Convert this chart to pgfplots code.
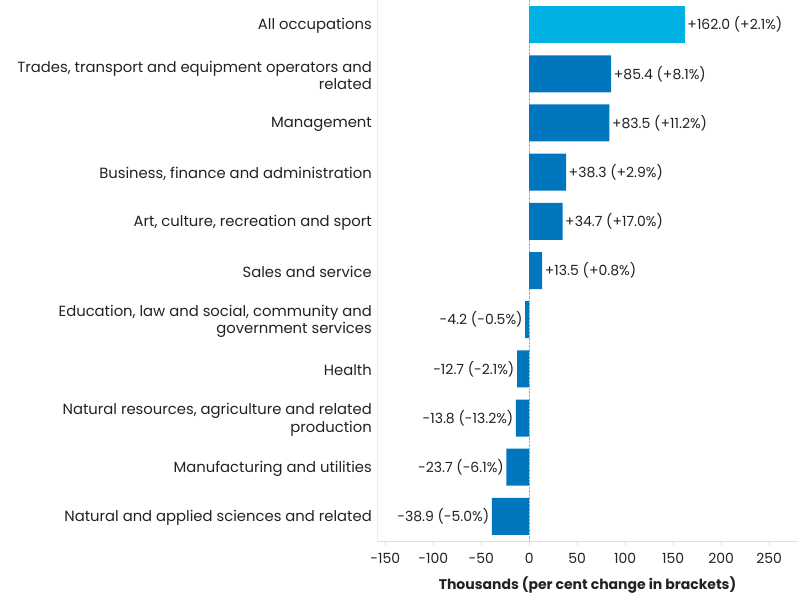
\documentclass[border=0pt]{standalone}
\usepackage{pgfplots}
\usepackage{fontspec}
\setmainfont{Poppins}
\pgfplotsset{compat=1.18}
\definecolor{lightbar}{HTML}{00B2E3}
\definecolor{darkbar}{HTML}{0076BF}
\definecolor{txt}{HTML}{222222}
\newcommand{\lbl}{\fontsize{14bp}{17bp}\selectfont}
\newcommand{\catlbl}{\fontsize{14.8bp}{17.5bp}\selectfont}

\begin{document}
\begin{tikzpicture}
\useasboundingbox (0,0) rectangle (800bp,600bp);
\begin{axis}[%
  at={(377bp,59bp)},
  anchor=south west,
  scale only axis,
  width=421bp,
  height=541bp,
  xbar,
  bar width=37bp,
  bar shift=0pt,
  xmin=-158.6, xmax=280,
  ymin=-0.5, ymax=10.5,
  y dir=reverse,
  axis x line*=bottom,
  axis y line*=left,
  x axis line style={draw=black!12},
  y axis line style={draw=black!7},
  xtick={-150,-100,-50,0,50,100,150,200,250},
  xticklabels={-150,-100,-50,0,50,100,150,200,250},
  xtick style={draw=black!15},
  tick align=outside,
  major tick length=4bp,
  ytick={0,...,10},
  yticklabels={All occupations,
    {Trades, transport and equipment operators and\\related},
    Management,
    {Business, finance and administration},
    {Art, culture, recreation and sport},
    Sales and service,
    {Education, law and social, community and\\government services},
    Health,
    {Natural resources, agriculture and related\\production},
    Manufacturing and utilities,
    Natural and applied sciences and related},
  ytick style={draw=none},
  yticklabel style={align=right, font=\catlbl, text=txt, inner sep=0pt, xshift=-1bp, yshift=-1.5bp},
  xticklabel style={font=\lbl, text=txt, yshift=-5bp},
  xlabel={\bfseries Thousands (per cent change in brackets)},
  xlabel style={font=\lbl, text=txt, yshift=-6bp},
  nodes near coords,
  point meta=explicit symbolic,
  every node near coord/.append style={font=\lbl, text=txt, inner sep=2.5bp},
  clip=false,
]
\draw[densely dotted, black!35] (axis cs:0,-0.5) -- (axis cs:0,10.5);
\addplot[fill=lightbar, draw=none, nodes near coords style={anchor=west}]
  table[col sep=semicolon, row sep=\\, x=v, y=y, meta=lab] {
v;y;lab\\
162.0;0;+162.0 (+2.1\%)\\
};
\addplot[fill=darkbar, draw=none, nodes near coords style={anchor=west}]
  table[col sep=semicolon, row sep=\\, x=v, y=y, meta=lab] {
v;y;lab\\
85.4;1;+85.4 (+8.1\%)\\
83.5;2;+83.5 (+11.2\%)\\
38.3;3;+38.3 (+2.9\%)\\
34.7;4;+34.7 (+17.0\%)\\
13.5;5;+13.5 (+0.8\%)\\
};
\addplot[fill=darkbar, draw=none, nodes near coords style={anchor=east}]
  table[col sep=semicolon, row sep=\\, x=v, y=y, meta=lab] {
v;y;lab\\
-4.2;6;-4.2 (-0.5\%)\\
-12.7;7;-12.7 (-2.1\%)\\
-13.8;8;-13.8 (-13.2\%)\\
-23.7;9;-23.7 (-6.1\%)\\
-38.9;10;-38.9 (-5.0\%)\\
};
\end{axis}
\end{tikzpicture}
\end{document}
